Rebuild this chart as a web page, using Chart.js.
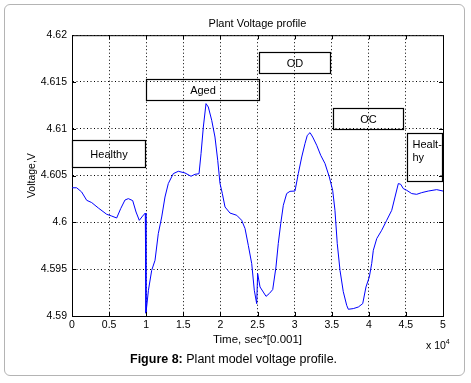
<!DOCTYPE html>
<html>
<head>
<meta charset="utf-8">
<script src="https://cdn.jsdelivr.net/npm/chart.js@4"></script>
<style>
body { margin: 0; background: #fff; }
#frame { position: absolute; left: 4px; top: 4px; width: 461px; height: 372px; border: 1px solid #b4b4b4; border-radius: 6px; box-sizing: border-box; }
#chartDiv { position: absolute; left: 0; top: 0; width: 471px; height: 383px; }
#expDiv { position: absolute; left: 426px; top: 338px; font: 10.5px "Liberation Sans", Arial, sans-serif; color: #000; }
#expDiv sup { font-size: 7px; }
#captionDiv { position: absolute; left: 130px; top: 352px; font: 12.5px "Liberation Sans", Arial, sans-serif; color: #000; white-space: nowrap; }
</style>
</head>
<body>
<div id="frame"></div>
<div id="chartDiv"><canvas id="canvasDiv"></canvas></div>
<div id="expDiv">x 10<sup>4</sup></div>
<div id="captionDiv"><b>Figure 8:</b> Plant model voltage profile.</div>
<script>
const canvasDiv = document.getElementById("canvasDiv");
const FONT = '"Liberation Sans", Arial, sans-serif';

// time axis (sec*0.001) and voltage values
var times = [0, 630, 1300, 1980, 2650, 3550, 4670, 5350, 6020, 6560, 7140, 7590, 8180, 8630, 9070, 9520, 9880,
  9970, 10300, 10740, 11190, 11630, 12090, 12530, 12980, 13650, 14330, 15230, 16040, 16580, 17120, 17390, 17700,
  18060, 18370, 18830, 19270, 19640, 19950, 20260, 20620, 21290, 22200, 22870, 23320, 23760, 24220, 24570, 24890,
  25020, 25340, 25780, 26150, 26590, 27050, 27490, 27800, 28130, 28480, 28930, 29380, 30050, 30500, 30960, 31400,
  31710, 32080, 32440, 32980, 33520, 34100, 34680, 35130, 35440, 35750, 36120, 36560, 37020, 37240, 37910, 38590,
  39180, 39620, 40070, 40390, 40610, 41070, 41740, 42410, 43090, 43530, 43980, 44300, 44650, 45110, 45780, 46450,
  47130, 48020, 49150, 50000];
var volts = [4.6037, 4.6037, 4.60325, 4.60236, 4.60212, 4.60154, 4.60087, 4.60068, 4.60047, 4.60147, 4.60239, 4.60254,
  4.60233, 4.60111, 4.60022, 4.60068, 4.601,
  4.5903, 4.59275, 4.59488, 4.59595, 4.5988, 4.60058, 4.60271, 4.60415, 4.60521, 4.60546, 4.60528, 4.60493, 4.60514,
  4.6052, 4.60735, 4.61019, 4.61269, 4.61233, 4.61091, 4.60912, 4.60663, 4.60415, 4.60308, 4.60165, 4.601, 4.60076,
  4.60022, 4.59934, 4.59755, 4.5956, 4.59275, 4.59132,
  4.59453, 4.5931, 4.59256, 4.5921, 4.5924, 4.59282, 4.59524, 4.59774, 4.59987, 4.60183, 4.60308, 4.60332, 4.60335,
  4.60521, 4.60699, 4.60842, 4.6093, 4.60959, 4.60912, 4.60824, 4.60717, 4.60628, 4.60485, 4.60343, 4.60129, 4.59774,
  4.59488, 4.5926, 4.59114, 4.59072, 4.59079, 4.59096, 4.59132, 4.5931, 4.59417, 4.5956, 4.59702, 4.59827, 4.59916,
  4.60022, 4.60129, 4.60271, 4.60415, 4.60407, 4.60361, 4.60343, 4.60308, 4.603, 4.60318, 4.60335, 4.6035, 4.60335];

var xTickValues = [0, 5000, 10000, 15000, 20000, 25000, 30000, 35000, 40000, 45000, 50000];
var xTickLabels = ["0", "0.5", "1", "1.5", "2", "2.5", "3", "3.5", "4", "4.5", "5"];
var yTickValues = [4.59, 4.595, 4.6, 4.605, 4.61, 4.615, 4.62];
var yTickLabels = ["4.59", "4.595", "4.6", "4.605", "4.61", "4.615", "4.62"];

// text boxes drawn on the plot, in data units
var boxLabels = ["Healthy", "Aged", "OD", "OC", "Healt-\nhy"];
var boxX0 = [0, 10000, 25200, 35200, 45100];
var boxX1 = [9900, 25200, 34800, 44650, 49850];
var boxY0 = [4.60592, 4.61312, 4.616, 4.61002, 4.60439];
var boxY1 = [4.60877, 4.61536, 4.61821, 4.61226, 4.60959];

var points = [];
for (let i = 0; i < times.length; i++) points.push({ x: times[i], y: volts[i] });

const plotExtras = {
  id: "plotExtras",
  afterDatasetsDraw(chart) {
    const ctx = chart.ctx;
    const a = chart.chartArea;
    const xs = chart.scales.x;
    const ys = chart.scales.y;
    ctx.save();
    ctx.strokeStyle = "#000";
    ctx.lineWidth = 1;
    // top and right edges of the box
    ctx.beginPath();
    ctx.moveTo(a.left, a.top + 0.5);
    ctx.lineTo(a.right + 0.5, a.top + 0.5);
    ctx.lineTo(a.right + 0.5, a.bottom);
    ctx.stroke();
    // inner tick marks
    ctx.beginPath();
    for (let i = 1; i < xTickValues.length - 1; i++) {
      const px = Math.round(xs.getPixelForValue(xTickValues[i])) + 0.5;
      ctx.moveTo(px, a.bottom); ctx.lineTo(px, a.bottom - 4);
      ctx.moveTo(px, a.top); ctx.lineTo(px, a.top + 4);
    }
    for (let i = 1; i < yTickValues.length - 1; i++) {
      const py = Math.round(ys.getPixelForValue(yTickValues[i])) + 0.5;
      ctx.moveTo(a.left, py); ctx.lineTo(a.left + 4, py);
      ctx.moveTo(a.right, py); ctx.lineTo(a.right - 4, py);
    }
    ctx.stroke();
    // annotation boxes
    ctx.font = "11px " + FONT;
    ctx.fillStyle = "#000";
    ctx.textBaseline = "middle";
    for (let i = 0; i < boxLabels.length; i++) {
      const x0 = Math.round(xs.getPixelForValue(boxX0[i])) + 0.5;
      const x1 = Math.round(xs.getPixelForValue(boxX1[i])) + 0.5;
      const y0 = Math.round(ys.getPixelForValue(boxY0[i])) + 0.5;
      const y1 = Math.round(ys.getPixelForValue(boxY1[i])) + 0.5;
      ctx.lineWidth = 1.2;
      ctx.strokeRect(x0, y1, x1 - x0, y0 - y1);
      const lines = boxLabels[i].split("\n");
      if (lines.length == 1) {
        ctx.textAlign = "center";
        ctx.fillText(lines[0], (x0 + x1) / 2, (y0 + y1) / 2 + 1);
      } else {
        ctx.textAlign = "left";
        for (let j = 0; j < lines.length; j++) {
          ctx.fillText(lines[j], x0 + 5, y1 + 11 + j * 13);
        }
      }
    }
    ctx.restore();
  },
};

var chart = new Chart(canvasDiv, {
  type: "line",
  data: {
    datasets: [
      {
        data: points,
        borderColor: "#0000ff",
        borderWidth: 1,
        pointRadius: 0,
        tension: 0,
        fill: false,
      },
    ],
  },
  options: {
    responsive: true,
    maintainAspectRatio: false,
    animation: false,
    layout: { padding: { left: 0, right: 28, top: 0, bottom: 30 } },
    plugins: {
      legend: { display: false },
      tooltip: { enabled: false },
      title: {
        display: true,
        fullSize: false,
        text: "Plant Voltage profile",
        color: "#000",
        font: { family: FONT, size: 11, weight: "normal" },
        padding: { top: 17, bottom: 5 },
      },
    },
    scales: {
      x: {
        type: "linear",
        min: 0,
        max: 50000,
        afterBuildTicks: (scale) => { scale.ticks = xTickValues.map((v) => ({ value: v })); },
        afterFit: (scale) => { scale.height = 37; },
        ticks: {
          autoSkip: false,
          maxRotation: 0,
          padding: 3,
          color: "#000",
          font: { family: FONT, size: 10.5 },
          callback: (v, i) => xTickLabels[i],
        },
        grid: { color: "#000", lineWidth: 1, drawTicks: false },
        border: { display: true, color: "#000", width: 1, dash: [1, 2.5] },
        title: {
          display: true,
          text: "Time, sec*[0.001]",
          color: "#000",
          font: { family: FONT, size: 11.5 },
          padding: { top: 0, bottom: 6 },
        },
      },
      y: {
        min: 4.59,
        max: 4.62,
        afterBuildTicks: (scale) => { scale.ticks = yTickValues.map((v) => ({ value: v })); },
        afterFit: (scale) => { scale.width = 72; },
        ticks: {
          padding: 5,
          color: "#000",
          font: { family: FONT, size: 10.5 },
          callback: (v, i) => yTickLabels[i],
        },
        grid: { color: "#000", lineWidth: 1, drawTicks: false },
        border: { display: true, color: "#000", width: 1, dash: [1, 2.5] },
        title: {
          display: true,
          text: "Voltage,V",
          color: "#000",
          font: { family: FONT, size: 10.5 },
          padding: { top: 25.7, bottom: 0 },
        },
      },
    },
  },
  plugins: [plotExtras],
});
</script>
</body>
</html>
